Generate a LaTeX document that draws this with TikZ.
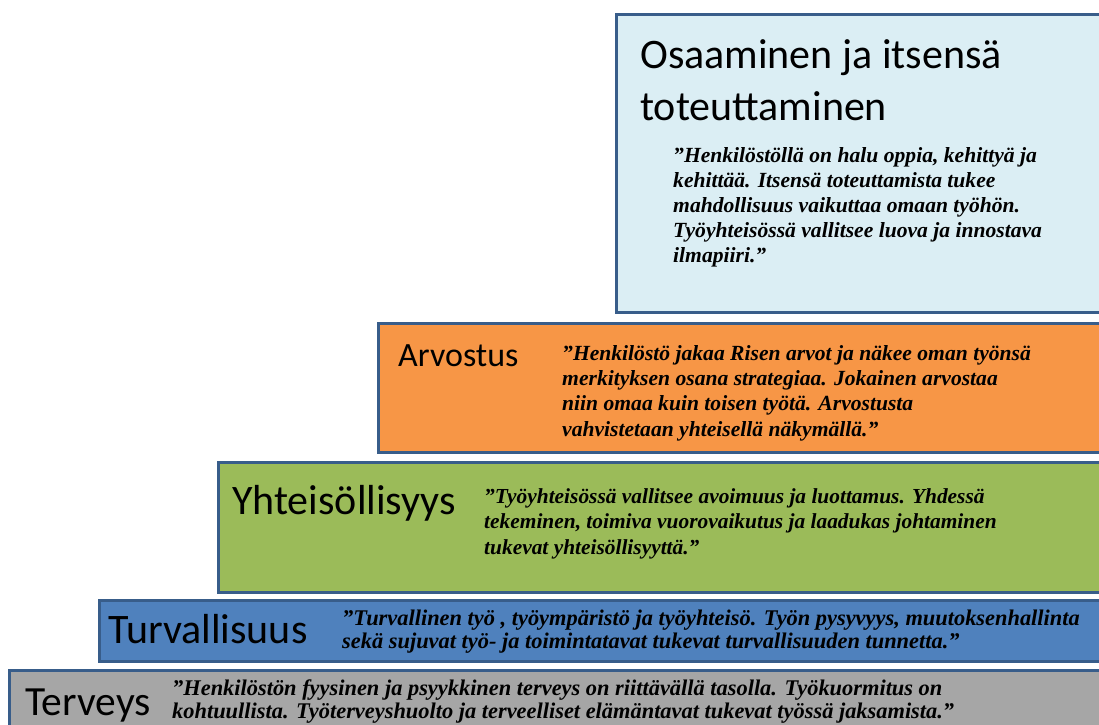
\documentclass[tikz,border=0pt]{standalone}
\usepackage{fontspec}
\setmainfont{Carlito}
\newfontfamily\quotefont{Liberation Serif}
\definecolor{bordercol}{RGB}{56,93,138}
\definecolor{lightbluefill}{RGB}{219,238,244}
\definecolor{orangefill}{RGB}{247,150,70}
\definecolor{greenfill}{RGB}{155,187,89}
\definecolor{bluefill}{RGB}{79,129,189}
\definecolor{grayfill}{RGB}{166,166,166}
\begin{document}
\begin{tikzpicture}[x=1pt,y=-1pt,
  levelbox/.style={draw=bordercol, line width=2.8pt, anchor=north west, inner sep=0pt},
  titletext/.style={anchor=base west, inner sep=0pt, text=black},
  quotetext/.style={anchor=base west, inner sep=0pt, align=left, text=black}]
\useasboundingbox (0,0) rectangle (1099,724);
\clip (0,0) rectangle (1099,724);
\fill[white] (0,0) rectangle (1099,724);
% boxes
\node[levelbox, fill=lightbluefill, minimum width=520pt, minimum height=298pt] (osaaminen) at (615,13) {};
\node[levelbox, fill=orangefill, minimum width=760pt, minimum height=129pt] (arvostus) at (377,322) {};
\node[levelbox, fill=greenfill, minimum width=920pt, minimum height=130pt] (yhteis) at (217,461) {};
\node[levelbox, fill=bluefill, minimum width=1040pt, minimum height=61pt] (turva) at (98,599) {};
\node[levelbox, fill=grayfill, minimum width=1140pt, minimum height=80pt] (terveys) at (8,669) {};
% titles
\node[titletext, font=\fontsize{42}{52}\selectfont] (t1a) at (640,68) {Osaaminen ja itsensä};
\node[titletext, font=\fontsize{42}{52}\selectfont] (t1b) at (640,120) {toteuttaminen};
\node[titletext, font=\fontsize{34}{40}\selectfont] (t2) at (398,366) {Arvostus};
\node[titletext, font=\fontsize{42}{48}\selectfont] (t3) at (232,514) {Yhteisöllisyys};
\node[titletext, font=\fontsize{42}{48}\selectfont] (t4) at (108,643) {Turvallisuus};
\node[titletext, font=\fontsize{41.5}{48}\selectfont] (t5) at (25,715) {Terveys};
% quotes (anchored at the baseline of their last line)
\node[quotetext, font=\quotefont\bfseries\itshape\fontsize{21.6}{25}\selectfont] (q1) at (673,262) {”Henkilöstöllä on halu oppia, kehittyä ja\\kehittää. Itsensä toteuttamista tukee\\mahdollisuus vaikuttaa omaan työhön.\\Työyhteisössä vallitsee luova ja innostava\\ilmapiiri.”};
\node[quotetext, font=\quotefont\bfseries\itshape\fontsize{21.6}{25.3}\selectfont] (q2) at (562,436) {”Henkilöstö jakaa Risen arvot ja näkee oman työnsä\\merkityksen osana strategiaa. Jokainen arvostaa\\niin omaa kuin toisen työtä. Arvostusta\\vahvistetaan yhteisellä näkymällä.”};
\node[quotetext, font=\quotefont\bfseries\itshape\fontsize{21.4}{25.5}\selectfont] (q3) at (484,554) {”Työyhteisössä vallitsee avoimuus ja luottamus. Yhdessä\\tekeminen, toimiva vuorovaikutus ja laadukas johtaminen\\tukevat yhteisöllisyyttä.”};
\node[quotetext, font=\quotefont\bfseries\itshape\fontsize{22.4}{23}\selectfont] (q4) at (342,648) {”Turvallinen työ , työympäristö ja työyhteisö. Työn pysyvyys, muutoksenhallinta\\sekä sujuvat työ- ja toimintatavat tukevat turvallisuuden tunnetta.”};
\node[quotetext, font=\quotefont\bfseries\itshape\fontsize{22.4}{23}\selectfont] (q5) at (172,718) {”Henkilöstön fyysinen ja psyykkinen terveys on riittävällä tasolla. Työkuormitus on\\kohtuullista. Työterveyshuolto ja terveelliset elämäntavat tukevat työssä jaksamista.”};
\end{tikzpicture}
\end{document}
